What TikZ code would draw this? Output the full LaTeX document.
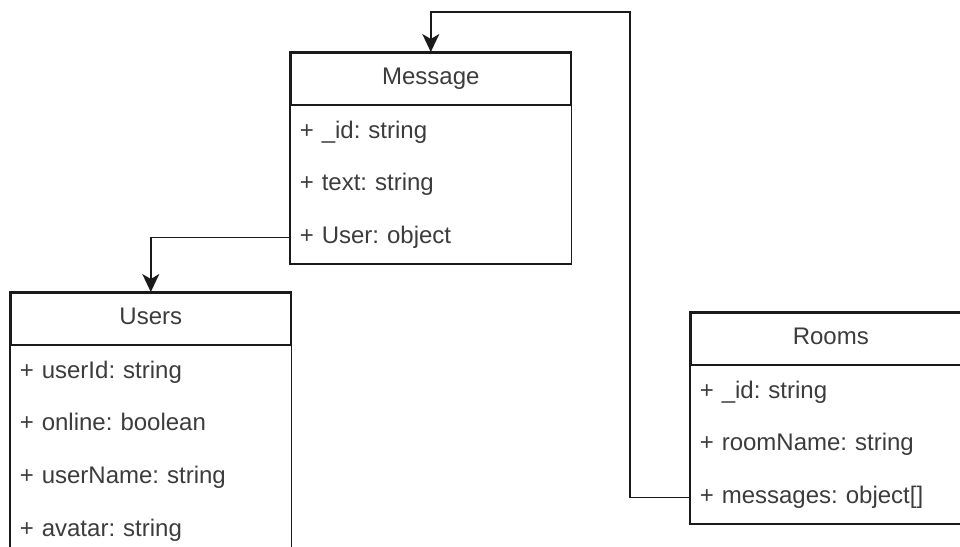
\documentclass[tikz,border=0pt]{standalone}
\usepackage{fontspec}
\setmainfont{Liberation Sans}
\usetikzlibrary{positioning,arrows.meta,fit}
\definecolor{ink}{HTML}{1A1A1A}
\definecolor{txt}{HTML}{3C3C3C}
\frenchspacing
\tikzset{
  hdr/.style={draw=ink, line width=0.8pt, minimum width=140pt, minimum height=26pt, inner sep=0pt, anchor=north west,
    text height=8.6pt, text depth=2.6pt, font=\fontsize{12}{14}\selectfont\color{txt}},
  attr/.style={minimum height=26pt, text width=131pt, inner xsep=4.5pt, inner ysep=0pt, align=left,
    text height=8.6pt, text depth=2.6pt, font=\fontsize{12}{14}\selectfont\color{txt}},
  frame/.style={draw=ink, line width=0.8pt, inner sep=0pt},
  link/.style={-{Stealth[length=9pt, width=8.5pt, inset=2.5pt]}, draw=ink, line width=0.8pt},
}
\begin{document}
\begin{tikzpicture}[x=0.5pt, y=-0.5pt]
    \useasboundingbox (0,0) rectangle (960,547);
    \clip (0,0) rectangle (960,547);
    % message
    \node[hdr] (msg) at (290,52) {Message};
    \node[attr, below=0pt of msg] (msgid)   {+ \_id: string};
    \node[attr, below=0pt of msgid] (msgtxt)  {+ text: string};
    \node[attr, below=0pt of msgtxt] (msgusr) {+ User: object};
    \node[frame, fit=(msg)(msgusr)] (msgbox) {};
    % users
    \node[hdr] (usr) at (10,292) {Users};
    \node[attr, below=0pt of usr] (usrid)      {+ userId: string};
    \node[attr, below=0pt of usrid] (usronl)   {+ online: boolean};
    \node[attr, below=0pt of usronl] (usrname) {+ userName: string};
    \node[attr, below=0pt of usrname] (usrava) {+ avatar: string};
    \node[frame, fit=(usr)(usrava)] (usrbox) {};
    % rooms
    \node[hdr] (rm) at (690,312) {Rooms};
    \node[attr, below=0pt of rm] (rmid)      {+ \_id: string};
    \node[attr, below=0pt of rmid] (rmname)  {+ roomName: string};
    \node[attr, below=0pt of rmname] (rmmsg) {+ messages: object[]};
    \node[frame, fit=(rm)(rmmsg)] (rmbox) {};
    % links
    \coordinate (bend) at (630,12);
    \draw[link] (msgusr.west) -| (usr.north);
    \draw[link] (rmmsg.west) -| (bend) -| (msg.north);
\end{tikzpicture}
\end{document}
